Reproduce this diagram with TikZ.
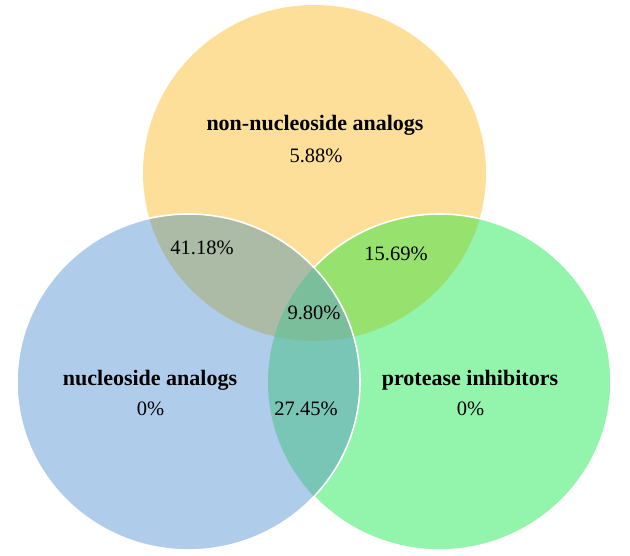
\documentclass[tikz,border=0pt]{standalone}
\usepackage{fontspec}
\setmainfont{Liberation Serif}
\definecolor{cTop}{HTML}{FDDF99}
\definecolor{cLeft}{HTML}{AFCDEA}
\definecolor{cRight}{HTML}{93F4AB}
\definecolor{cLT}{HTML}{ABBBA6}
\definecolor{cTR}{HTML}{97E16F}
\definecolor{cLR}{HTML}{79C6B6}
\definecolor{cAll}{HTML}{7BBE9C}
\tikzset{
  setlbl/.style={anchor=base, inner sep=0pt, font=\fontsize{22}{24}\selectfont\bfseries},
  numlbl/.style={anchor=base, inner sep=0pt, font=\fontsize{20.5}{23}\selectfont},
  rim/.style={draw=white, line width=1.6pt},
  ell/.style={x radius=171.5pt, y radius=168pt}
}
\begin{document}
\begin{tikzpicture}[x=1pt,y=-1pt]
\useasboundingbox (0,0) rectangle (630,556);
\coordinate (T) at (314.5,173);
\coordinate (L) at (188.5,382);
\coordinate (R) at (439.5,382);
% top circle
\fill[cTop] (T) ellipse[ell];
% right circle
\fill[cRight] (R) ellipse[ell];
\begin{scope}
  \clip (T) ellipse[ell];
  \fill[cTR] (R) ellipse[ell];
\end{scope}
\draw[rim] (R) ellipse[ell];
% left circle
\fill[cLeft] (L) ellipse[ell];
\begin{scope}
  \clip (T) ellipse[ell];
  \fill[cLT] (L) ellipse[ell];
\end{scope}
\begin{scope}
  \clip (L) ellipse[ell];
  \fill[cLR] (R) ellipse[ell];
\end{scope}
\begin{scope}
  \clip (L) ellipse[ell];
  \clip (T) ellipse[ell];
  \fill[cAll] (R) ellipse[ell];
\end{scope}
\draw[rim] (L) ellipse[ell];
% labels
\node[setlbl] (tname) at (315,131) {non-nucleoside analogs};
\node[numlbl] (tval) at (316,163) {5.88\%};
\node[setlbl] (lname) at (150,385) {nucleoside analogs};
\node[numlbl] (lval) at (150.5,415) {0\%};
\node[setlbl] (rname) at (470,385) {protease inhibitors};
\node[numlbl] (rval) at (470.5,415) {0\%};
\node[numlbl] (lt) at (202,255) {41.18\%};
\node[numlbl] (tr) at (396,261) {15.69\%};
\node[numlbl] (all) at (314,320) {9.80\%};
\node[numlbl] (lr) at (306,415) {27.45\%};
\end{tikzpicture}
\end{document}
